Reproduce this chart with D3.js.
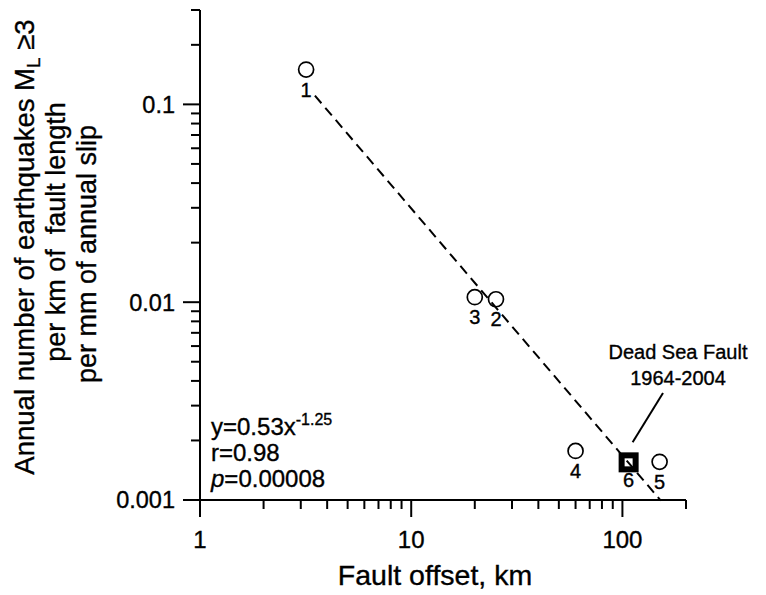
<!DOCTYPE html>
<html>
<head>
<meta charset="utf-8">
<script src="https://cdn.jsdelivr.net/npm/d3@7"></script>
<style>
  body { margin: 0; background: #fff; }
  svg { display: block; font-family: "Liberation Sans", Arial, sans-serif; }
  svg text { stroke: #000; stroke-width: 0.35px; }
  .axis-line, .tick-line { stroke: #000; stroke-width: 2; }
</style>
</head>
<body>
<div id="chart"></div>
<script>
// DATA
var pointIds   = ["1", "2", "3", "4", "5"];
var offsetKm   = [3.18, 25.2, 20, 60, 150];
var quakeRate  = [0.150, 0.01035, 0.0106, 0.00177, 0.00156];

// Dead Sea Fault point
var dsfId      = "6";
var dsfOffset  = 107;
var dsfRate    = 0.00155;
var dsfLabel   = ["Dead Sea Fault", "1964-2004"];

// fit line y = a * x^b
var fitA = 0.53;
var fitB = -1.25;
var fitFrom = 3.5;
var fitTo = 152;
var fitText = ["y=0.53x", "-1.25", "r=0.98", "p", "=0.00008"];

// TICKS
var xMajor = [1, 10, 100];
var xMinor = [2, 3, 4, 5, 6, 7, 8, 9, 20, 30, 40, 50, 60, 70, 80, 90, 200];
var yMajor = [0.001, 0.01, 0.1];
var yMinor = [0.002, 0.003, 0.004, 0.005, 0.006, 0.007, 0.008, 0.009,
              0.02, 0.03, 0.04, 0.05, 0.06, 0.07, 0.08, 0.09, 0.2, 0.3];
var yTickLabels = ["0.001", "0.01", "0.1"];
var xTickLabels = ["1", "10", "100"];

var w = 766;
var h = 595;
var svg = d3.select("#chart").append("svg")
  .attr("width", w)
  .attr("height", h);

//PREPARE SCALES
var xScale = d3.scaleLog().domain([1, 200]).range([200, 686]);
var yScale = d3.scaleLog().domain([0.001, 0.3]).range([500, 10]);

//AXES LINES
svg.append("line").attr("class", "axis-line")
  .attr("x1", xScale(1)).attr("x2", xScale(1))
  .attr("y1", yScale(0.3)).attr("y2", yScale(0.001));
svg.append("line").attr("class", "axis-line")
  .attr("x1", xScale(1)).attr("x2", xScale(200))
  .attr("y1", yScale(0.001)).attr("y2", yScale(0.001));

//X TICKS
svg.selectAll(".xmaj").data(xMajor).enter().append("line")
  .attr("class", "tick-line")
  .attr("x1", function(d){ return xScale(d); })
  .attr("x2", function(d){ return xScale(d); })
  .attr("y1", 500).attr("y2", 517);
svg.selectAll(".xmin").data(xMinor).enter().append("line")
  .attr("class", "tick-line")
  .attr("x1", function(d){ return xScale(d); })
  .attr("x2", function(d){ return xScale(d); })
  .attr("y1", 500).attr("y2", 509);
svg.selectAll(".xlab").data(xMajor).enter().append("text")
  .attr("x", function(d){ return xScale(d); })
  .attr("y", 548)
  .attr("text-anchor", "middle")
  .style("font-size", "24px")
  .text(function(d, i){ return xTickLabels[i]; });

//Y TICKS
svg.selectAll(".ymaj").data(yMajor).enter().append("line")
  .attr("class", "tick-line")
  .attr("y1", function(d){ return yScale(d); })
  .attr("y2", function(d){ return yScale(d); })
  .attr("x1", 183).attr("x2", 200);
svg.selectAll(".ymin").data(yMinor).enter().append("line")
  .attr("class", "tick-line")
  .attr("y1", function(d){ return yScale(d); })
  .attr("y2", function(d){ return yScale(d); })
  .attr("x1", 191).attr("x2", 200);
svg.selectAll(".ylab").data(yMajor).enter().append("text")
  .attr("x", 175)
  .attr("y", function(d){ return yScale(d); })
  .attr("dy", "0.36em")
  .attr("text-anchor", "end")
  .style("font-size", "23.5px")
  .text(function(d, i){ return yTickLabels[i]; });

//AXIS TITLES
svg.append("text")
  .attr("x", 435).attr("y", 585)
  .attr("text-anchor", "middle")
  .style("font-size", "28.5px")
  .text("Fault offset, km");

var yt1 = svg.append("text")
  .attr("transform", "translate(34,247) rotate(-90)")
  .attr("text-anchor", "middle")
  .style("font-size", "27.5px");
yt1.append("tspan").text("Annual number of earthquakes M");
yt1.append("tspan").attr("dy", 6).style("font-size", "19px").text("L");
yt1.append("tspan").attr("dy", -6).text(" \u22653");

svg.append("text")
  .attr("transform", "translate(65,232) rotate(-90)")
  .attr("text-anchor", "middle")
  .style("font-size", "27px")
  .style("white-space", "pre")
  .text("per km of  fault length");

svg.append("text")
  .attr("transform", "translate(96,254) rotate(-90)")
  .attr("text-anchor", "middle")
  .style("font-size", "27px")
  .text("per mm of annual slip");

//CIRCLES
svg.selectAll(".pt").data(offsetKm).enter().append("circle")
  .attr("cx", function(d){ return xScale(d); })
  .attr("cy", function(d, i){ return yScale(quakeRate[i]); })
  .attr("r", 7.5)
  .attr("fill", "none")
  .attr("stroke", "#000")
  .attr("stroke-width", 1.7);

svg.selectAll(".ptlab").data(offsetKm).enter().append("text")
  .attr("x", function(d){ return xScale(d); })
  .attr("y", function(d, i){ return yScale(quakeRate[i]) + 27; })
  .attr("text-anchor", "middle")
  .style("font-size", "20px")
  .text(function(d, i){ return pointIds[i]; });

//DEAD SEA FAULT SQUARE
svg.append("rect")
  .attr("x", xScale(dsfOffset) - 7)
  .attr("y", yScale(dsfRate) - 7)
  .attr("width", 14).attr("height", 14)
  .attr("fill", "#fff")
  .attr("stroke", "#000")
  .attr("stroke-width", 6);

svg.append("text")
  .attr("x", xScale(dsfOffset))
  .attr("y", yScale(dsfRate) + 25)
  .attr("text-anchor", "middle")
  .style("font-size", "20px")
  .text(dsfId);

//FIT LINE
svg.append("line")
  .attr("x1", xScale(fitFrom)).attr("y1", yScale(fitA * Math.pow(fitFrom, fitB)))
  .attr("x2", xScale(fitTo)).attr("y2", yScale(fitA * Math.pow(fitTo, fitB)))
  .attr("stroke", "#000")
  .attr("stroke-width", 2)
  .attr("stroke-dasharray", "10,6");

//ANNOTATION
svg.append("line")
  .attr("x1", xScale(dsfOffset) + 4).attr("y1", yScale(dsfRate) - 20)
  .attr("x2", 663).attr("y2", 393)
  .attr("stroke", "#000")
  .attr("stroke-width", 2);

svg.selectAll(".dsf").data(dsfLabel).enter().append("text")
  .attr("x", 678)
  .attr("y", function(d, i){ return 359 + i * 26; })
  .attr("text-anchor", "middle")
  .style("font-size", "20px")
  .text(function(d){ return d; });

//FIT TEXT
var f1 = svg.append("text").attr("x", 211).attr("y", 435).style("font-size", "24px");
f1.append("tspan").text(fitText[0]);
f1.append("tspan").attr("dy", -10).style("font-size", "16px").text(fitText[1]);
svg.append("text").attr("x", 211).attr("y", 461).style("font-size", "24px").text(fitText[2]);
var f3 = svg.append("text").attr("x", 211).attr("y", 487).style("font-size", "24px");
f3.append("tspan").style("font-style", "italic").text(fitText[3]);
f3.append("tspan").text(fitText[4]);
</script>
</body>
</html>
